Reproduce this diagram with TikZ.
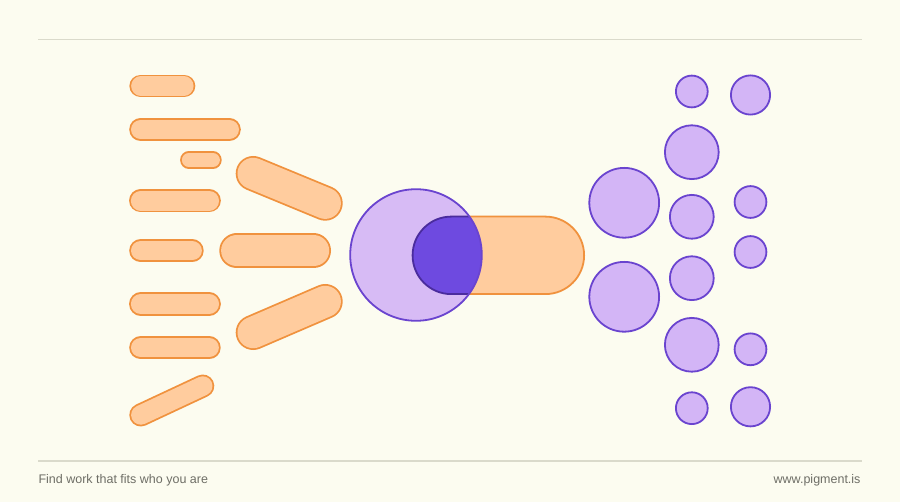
\documentclass[tikz,border=0pt]{standalone}
\usepackage{fontspec}
\setmainfont{Liberation Sans}
\definecolor{bg}{HTML}{FCFCF0}
\definecolor{orfill}{HTML}{FFCC9E}
\definecolor{orline}{HTML}{F0923E}
\definecolor{pufill}{HTML}{D3B5F6}
\definecolor{puline}{HTML}{6A44CF}
\definecolor{pudark}{HTML}{6E4AE0}
\definecolor{pudline}{HTML}{4A2C9E}
\definecolor{rule}{HTML}{DADACB}
\definecolor{txt}{HTML}{6E6E66}
\newcommand{\pill}[5]{%
  \draw[orline, line width=#5pt, line cap=round] (#1,#2) -- (#3,#4);
  \draw[orfill, line width=#5pt-3.6pt, line cap=round] (#1,#2) -- (#3,#4);}
\tikzset{
  bubble/.style={fill=pufill, draw=puline, line width=1.8pt},
  footer/.style={text=txt, font=\fontsize{12.5}{14}\selectfont, inner sep=0pt}
}
\begin{document}
\begin{tikzpicture}[x=1pt,y=-1pt]
\useasboundingbox[fill=bg] (0,0) rectangle (900,502);
% rules
\draw[rule, line width=1.3pt] (38,39.7) -- (862,39.7);
\draw[rule, line width=1.3pt] (38,461) -- (862,461);
% left pills
\pill{140.7}{86}{184}{86}{22.7}
\pill{140.7}{129.5}{229.3}{129.5}{23}
\pill{188.8}{160}{213}{160}{17.4}
\pill{140.7}{200.7}{209.2}{200.7}{23.3}
\pill{140.7}{250.8}{192.2}{250.8}{23}
\pill{140.7}{304}{209.2}{304}{23.3}
\pill{140.7}{347.8}{209.2}{347.8}{23}
\pill{140.8}{415}{202.8}{386}{23}
\pill{253.2}{173.5}{325.2}{203.2}{35}
\pill{236.8}{250.8}{313.5}{250.8}{35}
\pill{253.2}{332.5}{325.2}{301.5}{35}
% big pill + circle
\draw[fill=orfill, draw=orline, line width=1.8pt, rounded corners=38.7pt]
  (412.6,216.6) rectangle (584.1,294.1);
\fill[pufill, fill opacity=0.9] (416,255) circle (65.8);
\begin{scope}
  \clip (416,255) circle (65.8);
  \draw[fill=pudark, draw=pudline, line width=1.8pt, rounded corners=38.7pt]
    (412.6,216.6) rectangle (584.1,294.1);
\end{scope}
\draw[puline, line width=1.8pt] (416,255) circle (65.8);
% right circles
\draw[bubble] (624.2,202.8) circle (34.9);
\draw[bubble] (624.2,296.8) circle (34.9);
\draw[bubble] (691.8,91.5) circle (15.9);
\draw[bubble] (691.8,152.2) circle (26.9);
\draw[bubble] (691.8,216.8) circle (21.9);
\draw[bubble] (691.8,278.2) circle (21.9);
\draw[bubble] (691.8,344.8) circle (26.9);
\draw[bubble] (691.8,408.2) circle (15.9);
\draw[bubble] (750.5,95) circle (19.6);
\draw[bubble] (750.5,202) circle (15.9);
\draw[bubble] (750.5,252) circle (15.9);
\draw[bubble] (750.5,349.3) circle (15.9);
\draw[bubble] (750.5,406.8) circle (19.6);
% footer
\node[footer, anchor=base west] (tag) at (38.3,483.3) {Find work that fits who you are};
\node[footer, anchor=base east] (url) at (860.7,483.3) {www.pigment.is};
\end{tikzpicture}
\end{document}
